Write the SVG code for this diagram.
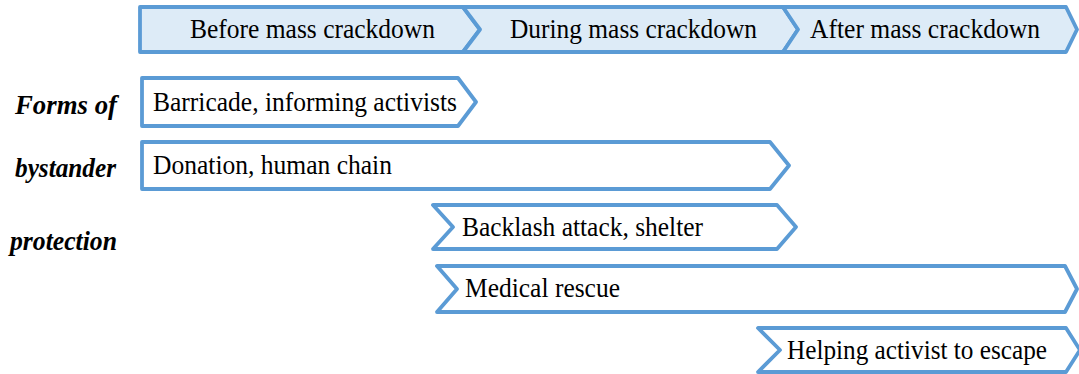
<svg xmlns="http://www.w3.org/2000/svg" width="1079" height="374" viewBox="0 0 1079 374">
<style>
.s{stroke:#5B9BD5;stroke-width:3.8;stroke-linejoin:round}
.h{fill:#DDEBF7}
.w{fill:#FFFFFF}
.t{font-family:"Liberation Serif","Times New Roman",serif;font-size:28px;fill:#000}
.l{font-family:"Liberation Serif","Times New Roman",serif;font-size:27px;font-weight:bold;font-style:italic;fill:#000}
</style>
<rect width="1079" height="374" fill="#FFFFFF"/>
<g id="header-before">
<path class="s h" d="M140,7 L463,7 L480,29.5 L463,52 L140,52 Z"/>
<text class="t" x="190" y="37.5" textLength="245" lengthAdjust="spacingAndGlyphs">Before mass crackdown</text>
</g>
<g id="header-during">
<path class="s h" d="M463,7 L783,7 L798,29.5 L783,52 L463,52 L480,29.5 Z"/>
<text class="t" x="510" y="37.5" textLength="247" lengthAdjust="spacingAndGlyphs">During mass crackdown</text>
</g>
<g id="header-after">
<path class="s h" d="M783,7 L1066,7 L1077,29.5 L1066,52 L783,52 L798,29.5 Z"/>
<text class="t" x="810" y="37.5" textLength="230" lengthAdjust="spacingAndGlyphs">After mass crackdown</text>
</g>
<g id="label">
<text class="l" x="117" y="114" text-anchor="end" textLength="102" lengthAdjust="spacingAndGlyphs">Forms of</text>
<text class="l" x="116" y="177" text-anchor="end" textLength="101" lengthAdjust="spacingAndGlyphs">bystander</text>
<text class="l" x="117" y="250" text-anchor="end" textLength="107" lengthAdjust="spacingAndGlyphs">protection</text>
</g>
<g id="barricade">
<path class="s w" d="M142,78 L458,78 L476,102 L458,126 L142,126 Z"/>
<text class="t" x="153" y="110.5" textLength="304" lengthAdjust="spacingAndGlyphs">Barricade, informing activists</text>
</g>
<g id="donation">
<path class="s w" d="M142,142 L770,142 L789,165.5 L770,189 L142,189 Z"/>
<text class="t" x="153" y="173.5" textLength="239" lengthAdjust="spacingAndGlyphs">Donation, human chain</text>
</g>
<g id="backlash">
<path class="s w" d="M433,205 L777,205 L796,227 L777,249 L433,249 L453,227 Z"/>
<text class="t" x="462" y="235.5" textLength="241" lengthAdjust="spacingAndGlyphs">Backlash attack, shelter</text>
</g>
<g id="medical">
<path class="s w" d="M437,266 L1065,266 L1077,289 L1065,312 L437,312 L457,289 Z"/>
<text class="t" x="465" y="296.5" textLength="155" lengthAdjust="spacingAndGlyphs">Medical rescue</text>
</g>
<g id="helping">
<path class="s w" d="M758,328 L1066,328 L1080,350 L1066,372 L758,372 L780,350 Z"/>
<text class="t" x="787" y="358.5" textLength="260" lengthAdjust="spacingAndGlyphs">Helping activist to escape</text>
</g>
<g id="connectors"></g>
</svg>
